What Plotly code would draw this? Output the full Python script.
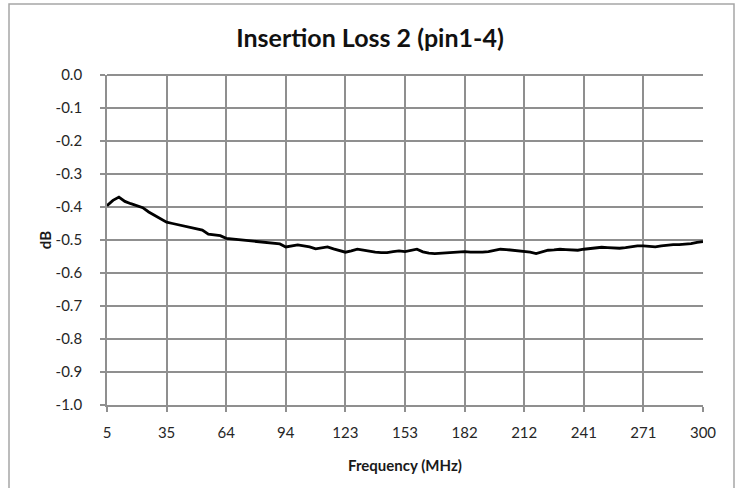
import plotly.graph_objects as go

# Frequency sweep: 101 points from 5 to 300 MHz
freq_start = 5.0
freq_step = 2.95
n_points = 101
freq_mhz = [round(freq_start + freq_step * i, 2) for i in range(n_points)]

insertion_loss_db = [
    -0.396, -0.380, -0.370, -0.383, -0.390, -0.395, -0.402, -0.415, -0.426, -0.437,
    -0.446, -0.450, -0.454, -0.458, -0.463, -0.466, -0.470, -0.482, -0.485, -0.487,
    -0.495, -0.497, -0.499, -0.501, -0.503, -0.505, -0.507, -0.509, -0.511, -0.512,
    -0.521, -0.518, -0.515, -0.518, -0.521, -0.527, -0.524, -0.521, -0.527, -0.532,
    -0.537, -0.533, -0.528, -0.531, -0.535, -0.537, -0.538, -0.538, -0.535, -0.533,
    -0.535, -0.532, -0.528, -0.536, -0.540, -0.541, -0.540, -0.538, -0.536, -0.535,
    -0.535, -0.537, -0.538, -0.537, -0.535, -0.531, -0.528, -0.529, -0.531, -0.532,
    -0.533, -0.537, -0.541, -0.536, -0.531, -0.530, -0.528, -0.529, -0.530, -0.531,
    -0.528, -0.526, -0.524, -0.522, -0.523, -0.524, -0.525, -0.523, -0.520, -0.518,
    -0.518, -0.519, -0.521, -0.518, -0.515, -0.514, -0.514, -0.513, -0.511, -0.507,
    -0.505,
]

x_tick_labels = ["5", "35", "64", "94", "123", "153", "182", "212", "241", "271", "300"]
x_tick_vals = freq_mhz[::10]
y_tick_vals = [0.0, -0.1, -0.2, -0.3, -0.4, -0.5, -0.6, -0.7, -0.8, -0.9, -1.0]
y_tick_labels = ["0.0", "-0.1", "-0.2", "-0.3", "-0.4", "-0.5", "-0.6", "-0.7", "-0.8", "-0.9", "-1.0"]

FONT = "Lato, Carlito, 'Liberation Sans', sans-serif"
GRID = "#8f8f8f"

fig = go.Figure()
fig.add_trace(go.Scatter(
    x=freq_mhz, y=insertion_loss_db, mode="lines",
    line=dict(color="#000000", width=2.8),
    showlegend=False, hoverinfo="x+y",
))

fig.update_layout(
    width=740, height=488,
    margin=dict(l=107, r=37, t=75, b=83),
    paper_bgcolor="white", plot_bgcolor="white",
    font=dict(family=FONT, size=15, color="#262626"),
    title=dict(text="<b>Insertion Loss 2 (pin1-4)</b>", x=370 / 740, xanchor="center",
               y=1 - 38 / 488, yanchor="middle",
               font=dict(family=FONT, size=25, color="#111111")),
    xaxis=dict(
        range=[freq_mhz[0], freq_mhz[-1]],
        tickmode="array", tickvals=x_tick_vals, ticktext=x_tick_labels,
        showgrid=True, gridcolor=GRID, gridwidth=1.8,
        showline=True, linecolor=GRID, linewidth=1.8,
        ticks="outside", ticklen=5, tickcolor=GRID, tickwidth=1.5,
        zeroline=False,
        ticklabelstandoff=8,
        title=dict(text="<b>Frequency (MHz)</b>", font=dict(family=FONT, size=15, color="#1a1a1a"),
                   standoff=21),
        tickfont=dict(size=15),
    ),
    yaxis=dict(
        range=[-1.0, 0.0],
        tickmode="array", tickvals=y_tick_vals, ticktext=y_tick_labels,
        showgrid=True, gridcolor=GRID, gridwidth=1.8,
        showline=True, linecolor=GRID, linewidth=1.8,
        ticks="outside", ticklen=5, tickcolor=GRID, tickwidth=1.5,
        zeroline=True, zerolinecolor=GRID, zerolinewidth=1.8,
        ticklabelstandoff=15,
        title=dict(text="<b>dB</b>", font=dict(family=FONT, size=15, color="#1a1a1a"),
                   standoff=0),
        tickfont=dict(size=15),
    ),
)

# Outer chart-area border
fig.add_shape(type="rect", xref="paper", yref="paper",
              x0=(9 - 107) / 596, x1=(734 - 107) / 596,
              y0=(405 - 495) / 330, y1=(405 - 4) / 330,
              line=dict(color="#a6a6a6", width=1.5), fillcolor="rgba(0,0,0,0)", layer="below")

fig.write_html("out.html", config={"displayModeBar": False},
               post_script="document.body.style.margin='0';")
